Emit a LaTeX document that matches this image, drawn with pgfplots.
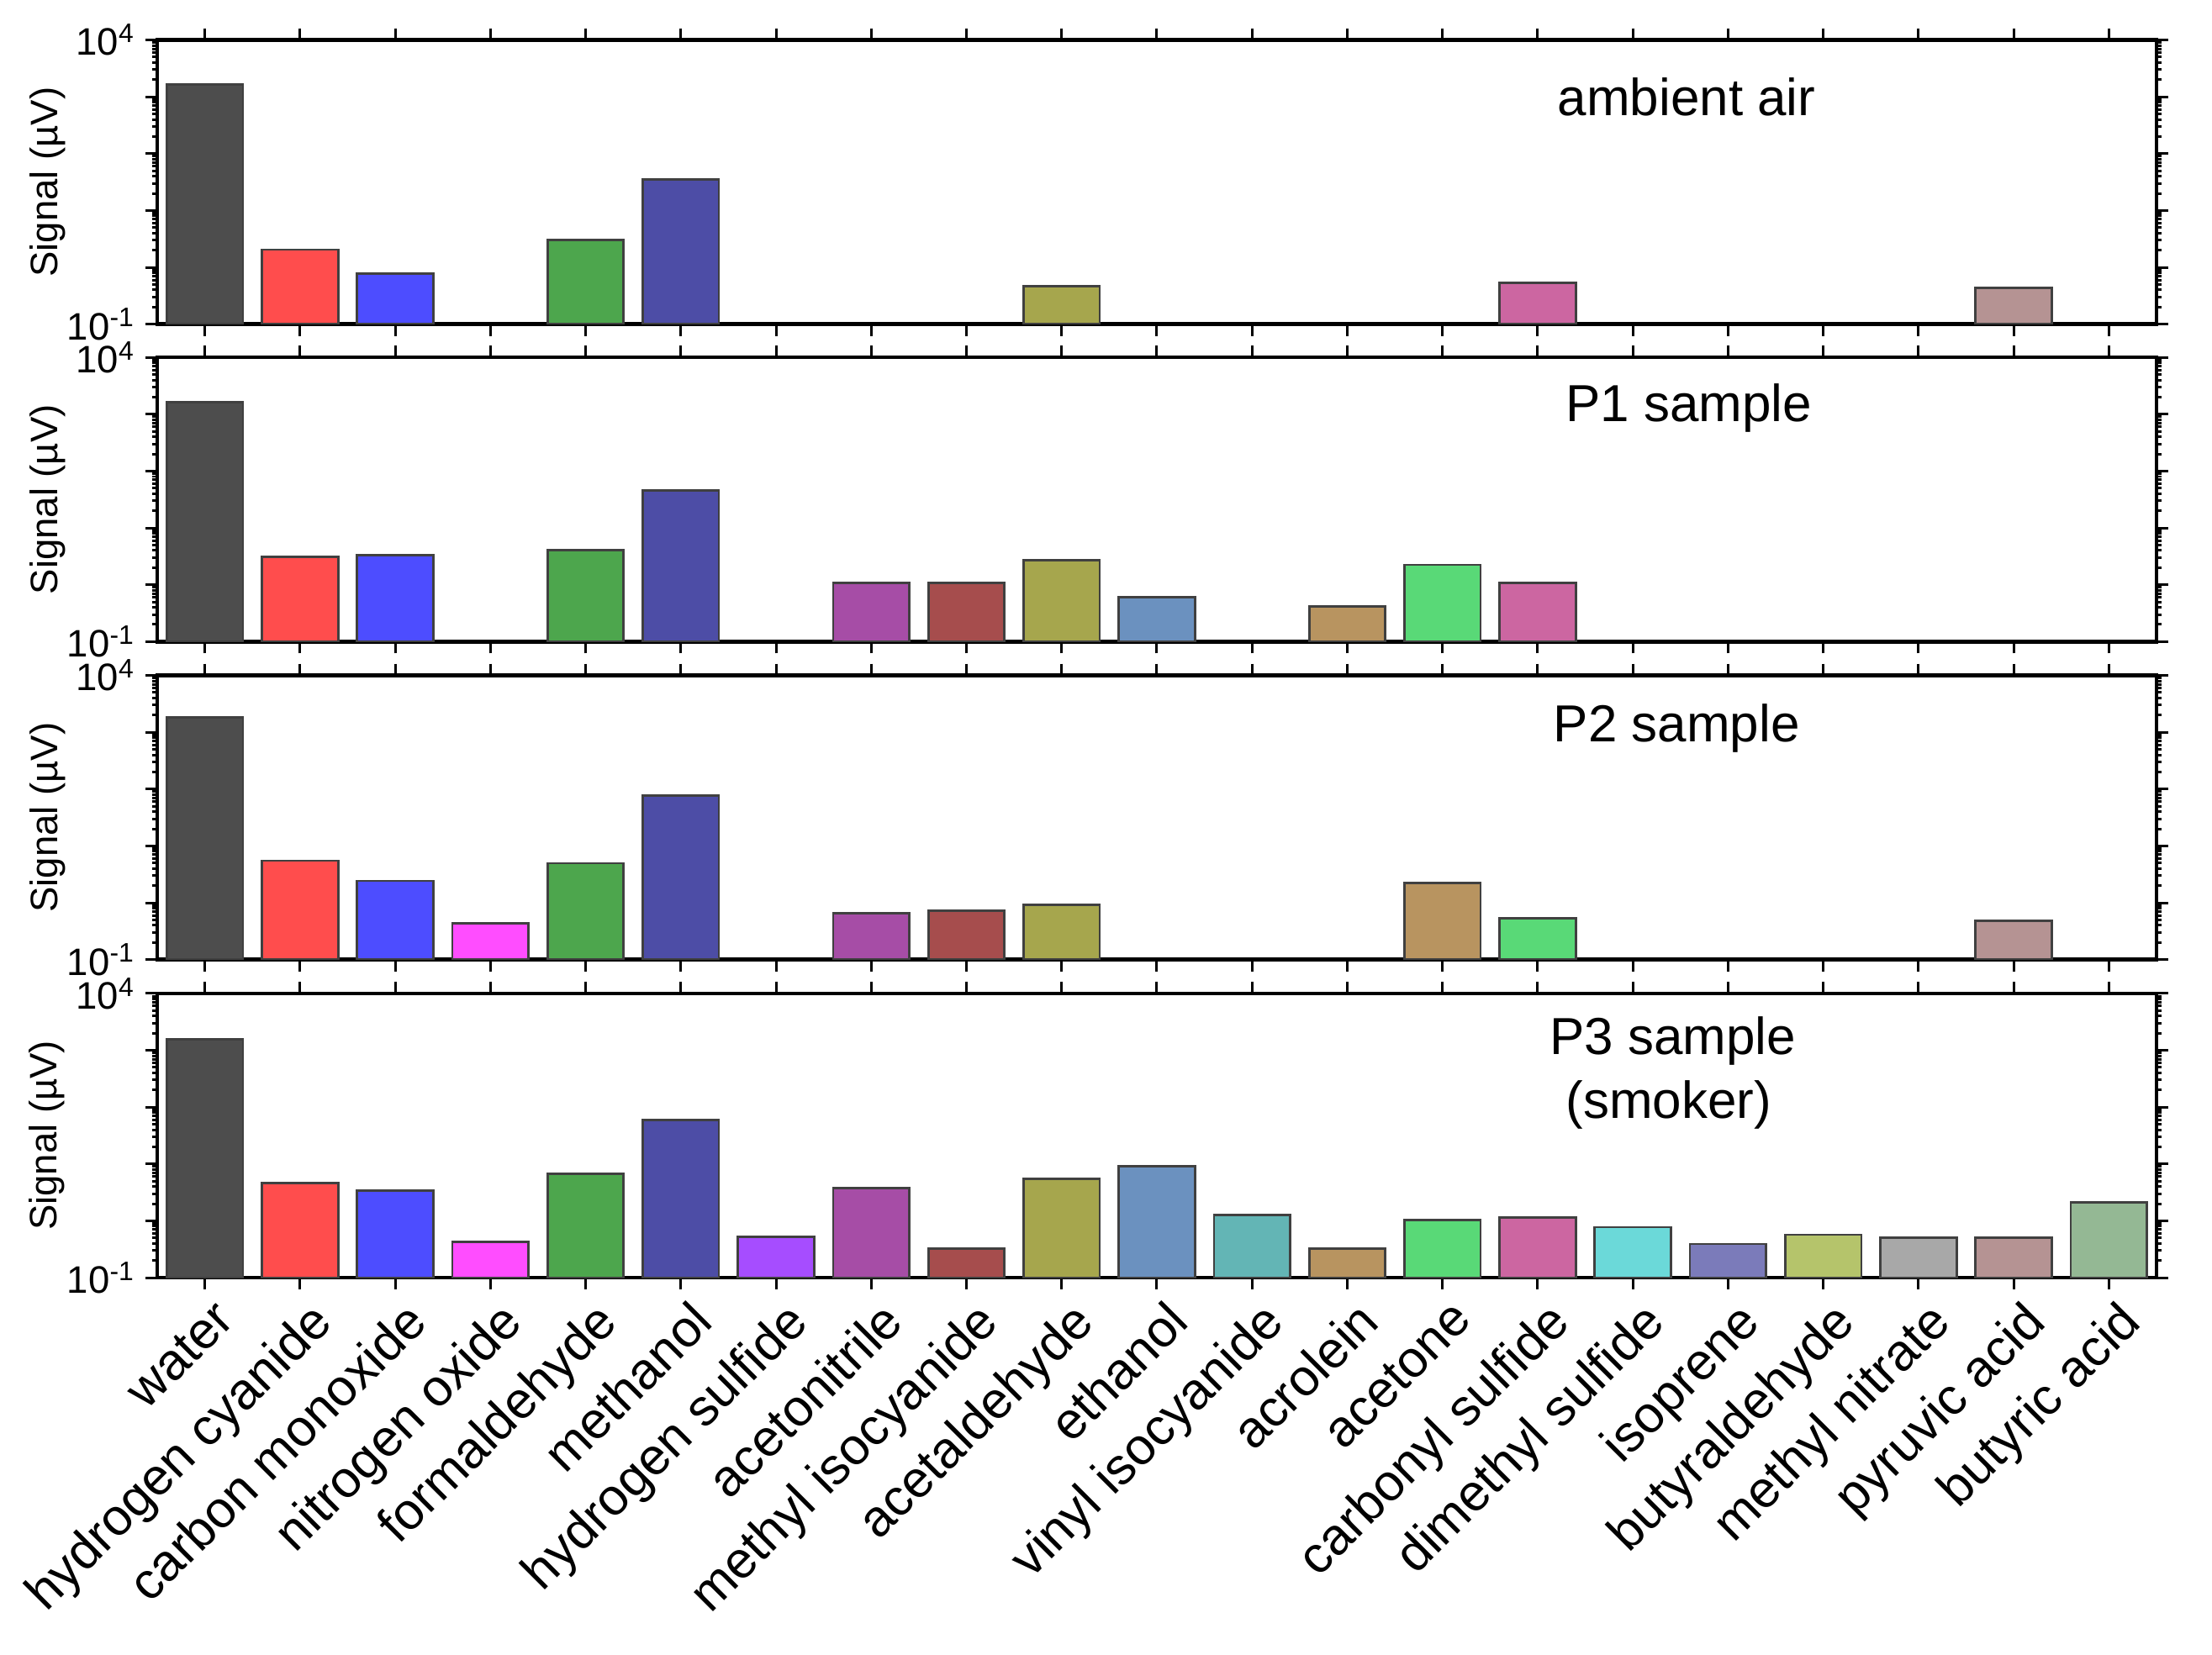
\documentclass[border=0pt]{standalone}
\usepackage{fontspec}
\setmainfont{Liberation Sans}
\usepackage{pgfplots}
\pgfplotsset{compat=1.18}
\definecolor{c0}{HTML}{4D4D4D}
\definecolor{c1}{HTML}{FF4D4D}
\definecolor{c2}{HTML}{4D4DFF}
\definecolor{c3}{HTML}{FF4DFF}
\definecolor{c4}{HTML}{4DA64D}
\definecolor{c5}{HTML}{4D4DA6}
\definecolor{c6}{HTML}{A64DFF}
\definecolor{c7}{HTML}{A64DA6}
\definecolor{c8}{HTML}{A64D4D}
\definecolor{c9}{HTML}{A6A64D}
\definecolor{c10}{HTML}{6B91BF}
\definecolor{c11}{HTML}{63B5B5}
\definecolor{c12}{HTML}{B89460}
\definecolor{c13}{HTML}{59D977}
\definecolor{c14}{HTML}{CC66A1}
\definecolor{c15}{HTML}{6BD9D9}
\definecolor{c16}{HTML}{7B7BBA}
\definecolor{c17}{HTML}{B5C46B}
\definecolor{c18}{HTML}{A8A8A8}
\definecolor{c19}{HTML}{B59393}
\definecolor{c20}{HTML}{94B894}
\tikzset{mytitle/.style={font=\fontsize{17.7}{21}\selectfont, anchor=base}}
\begin{document}
\begin{tikzpicture}
% ambient air
\begin{axis}[at={(53.43pt,452.1pt)}, anchor=south west, xticklabels={},
    scale only axis, width=679.4pt, height=96.6pt,
    xmin=-0.5, xmax=20.5, ymin=0.1, ymax=10000, ymode=log, log origin y=infty,
    xtick={0,...,20}, ytick={0.1,1,10,100,1000,10000},
    yticklabels={10\textsuperscript{-1},,,,,10\textsuperscript{4}},
    minor ytick={0.2,0.3,0.4,0.5,0.6,0.7,0.8,0.9,2,3,4,5,6,7,8,9,20,30,40,50,60,70,80,90,200,300,400,500,600,700,800,900,2000,3000,4000,5000,6000,7000,8000,9000},
    tick align=outside, major tick length=4pt, minor tick length=1.8pt,
    tick style={black, line width=0.85pt}, axis line style={line width=1.3pt},
    ylabel={Signal (µV)},
    ylabel style={font=\fontsize{13}{15}\selectfont, at={(axis description cs:-0.055,0.5)}, anchor=center},
    yticklabel style={font=\fontsize{13}{15}\selectfont},
    ybar, bar width=0.8, bar shift=0pt,
    every axis plot/.append style={draw=black!75, line width=0.8pt}]
\addplot[fill=c0] coordinates {(0,1637)};
\addplot[fill=c1] coordinates {(1,2.05)};
\addplot[fill=c2] coordinates {(2,0.77)};
\addplot[fill=c4] coordinates {(4,3.05)};
\addplot[fill=c5] coordinates {(5,35.6)};
\addplot[fill=c9] coordinates {(9,0.47)};
\addplot[fill=c14] coordinates {(14,0.53)};
\addplot[fill=c19] coordinates {(19,0.43)};
\node[mytitle] at (rel axis cs:0.765,0.734) {ambient air};
\end{axis}
% P1
\begin{axis}[at={(53.43pt,344.2pt)}, anchor=south west, xticklabels={},
    scale only axis, width=679.4pt, height=96.6pt,
    xmin=-0.5, xmax=20.5, ymin=0.1, ymax=10000, ymode=log, log origin y=infty,
    xtick={0,...,20}, ytick={0.1,1,10,100,1000,10000},
    yticklabels={10\textsuperscript{-1},,,,,10\textsuperscript{4}},
    minor ytick={0.2,0.3,0.4,0.5,0.6,0.7,0.8,0.9,2,3,4,5,6,7,8,9,20,30,40,50,60,70,80,90,200,300,400,500,600,700,800,900,2000,3000,4000,5000,6000,7000,8000,9000},
    tick align=outside, major tick length=4pt, minor tick length=1.8pt,
    tick style={black, line width=0.85pt}, axis line style={line width=1.3pt},
    ylabel={Signal (µV)},
    ylabel style={font=\fontsize{13}{15}\selectfont, at={(axis description cs:-0.055,0.5)}, anchor=center},
    yticklabel style={font=\fontsize{13}{15}\selectfont},
    ybar, bar width=0.8, bar shift=0pt,
    every axis plot/.append style={draw=black!75, line width=0.8pt}]
\addplot[fill=c0] coordinates {(0,1640)};
\addplot[fill=c1] coordinates {(1,3.06)};
\addplot[fill=c2] coordinates {(2,3.29)};
\addplot[fill=c4] coordinates {(4,4.1)};
\addplot[fill=c5] coordinates {(5,45.5)};
\addplot[fill=c7] coordinates {(7,1.07)};
\addplot[fill=c8] coordinates {(8,1.07)};
\addplot[fill=c9] coordinates {(9,2.71)};
\addplot[fill=c10] coordinates {(10,0.61)};
\addplot[fill=c12] coordinates {(12,0.42)};
\addplot[fill=c13] coordinates {(13,2.24)};
\addplot[fill=c14] coordinates {(14,1.07)};
\node[mytitle] at (rel axis cs:0.766,0.774) {P1 sample};
\end{axis}
% P2
\begin{axis}[at={(53.43pt,236.1pt)}, anchor=south west, xticklabels={},
    scale only axis, width=679.4pt, height=96.6pt,
    xmin=-0.5, xmax=20.5, ymin=0.1, ymax=10000, ymode=log, log origin y=infty,
    xtick={0,...,20}, ytick={0.1,1,10,100,1000,10000},
    yticklabels={10\textsuperscript{-1},,,,,10\textsuperscript{4}},
    minor ytick={0.2,0.3,0.4,0.5,0.6,0.7,0.8,0.9,2,3,4,5,6,7,8,9,20,30,40,50,60,70,80,90,200,300,400,500,600,700,800,900,2000,3000,4000,5000,6000,7000,8000,9000},
    tick align=outside, major tick length=4pt, minor tick length=1.8pt,
    tick style={black, line width=0.85pt}, axis line style={line width=1.3pt},
    ylabel={Signal (µV)},
    ylabel style={font=\fontsize{13}{15}\selectfont, at={(axis description cs:-0.055,0.5)}, anchor=center},
    yticklabel style={font=\fontsize{13}{15}\selectfont},
    ybar, bar width=0.8, bar shift=0pt,
    every axis plot/.append style={draw=black!75, line width=0.8pt}]
\addplot[fill=c0] coordinates {(0,1850)};
\addplot[fill=c1] coordinates {(1,5.5)};
\addplot[fill=c2] coordinates {(2,2.43)};
\addplot[fill=c3] coordinates {(3,0.44)};
\addplot[fill=c4] coordinates {(4,4.97)};
\addplot[fill=c5] coordinates {(5,77.8)};
\addplot[fill=c7] coordinates {(7,0.66)};
\addplot[fill=c8] coordinates {(8,0.73)};
\addplot[fill=c9] coordinates {(9,0.92)};
\addplot[fill=c12] coordinates {(13,2.22)};
\addplot[fill=c13] coordinates {(14,0.54)};
\addplot[fill=c19] coordinates {(19,0.485)};
\node[mytitle] at (rel axis cs:0.760,0.767) {P2 sample};
\end{axis}
% P3
\begin{axis}[at={(53.43pt,128.0pt)}, anchor=south west,
    scale only axis, width=679.4pt, height=96.6pt,
    xmin=-0.5, xmax=20.5, ymin=0.1, ymax=10000, ymode=log, log origin y=infty,
    xtick={0,...,20}, ytick={0.1,1,10,100,1000,10000},
    yticklabels={10\textsuperscript{-1},,,,,10\textsuperscript{4}},
    minor ytick={0.2,0.3,0.4,0.5,0.6,0.7,0.8,0.9,2,3,4,5,6,7,8,9,20,30,40,50,60,70,80,90,200,300,400,500,600,700,800,900,2000,3000,4000,5000,6000,7000,8000,9000},
    tick align=outside, major tick length=4pt, minor tick length=1.8pt,
    tick style={black, line width=0.85pt}, axis line style={line width=1.3pt},
    ylabel={Signal (µV)},
    ylabel style={font=\fontsize{13}{15}\selectfont, at={(axis description cs:-0.055,0.5)}, anchor=center},
    yticklabel style={font=\fontsize{13}{15}\selectfont},
    ybar, bar width=0.8, bar shift=0pt,
    every axis plot/.append style={draw=black!75, line width=0.8pt},
    xticklabels={water,hydrogen cyanide,carbon monoxide,nitrogen oxide,formaldehyde,methanol,hydrogen sulfide,acetonitrile,methyl isocyanide,acetaldehyde,ethanol,vinyl isocyanide,acrolein,acetone,carbonyl sulfide,dimethyl sulfide,isoprene,butyraldehyde,methyl nitrate,pyruvic acid,butyric acid},
    xticklabel style={font=\fontsize{17.5}{20}\selectfont, xshift=2.6pt, yshift=-2.8pt, rotate=45, anchor=north east, inner sep=0pt}]
\addplot[fill=c0] coordinates {(0,1553)};
\addplot[fill=c1] coordinates {(1,4.58)};
\addplot[fill=c2] coordinates {(2,3.37)};
\addplot[fill=c3] coordinates {(3,0.42)};
\addplot[fill=c4] coordinates {(4,6.8)};
\addplot[fill=c5] coordinates {(5,59)};
\addplot[fill=c6] coordinates {(6,0.52)};
\addplot[fill=c7] coordinates {(7,3.74)};
\addplot[fill=c8] coordinates {(8,0.32)};
\addplot[fill=c9] coordinates {(9,5.4)};
\addplot[fill=c10] coordinates {(10,9.06)};
\addplot[fill=c11] coordinates {(11,1.26)};
\addplot[fill=c12] coordinates {(12,0.32)};
\addplot[fill=c13] coordinates {(13,1.02)};
\addplot[fill=c14] coordinates {(14,1.13)};
\addplot[fill=c15] coordinates {(15,0.77)};
\addplot[fill=c16] coordinates {(16,0.39)};
\addplot[fill=c17] coordinates {(17,0.57)};
\addplot[fill=c18] coordinates {(18,0.51)};
\addplot[fill=c19] coordinates {(19,0.51)};
\addplot[fill=c20] coordinates {(20,2.09)};
\node[mytitle] at (rel axis cs:0.758,0.784) {P3 sample};
\node[mytitle] at (rel axis cs:0.756,0.562) {(smoker)};
\end{axis}
\pgfresetboundingbox
\useasboundingbox (0,0) rectangle (751.71pt,562.29pt);
\end{tikzpicture}
\end{document}
